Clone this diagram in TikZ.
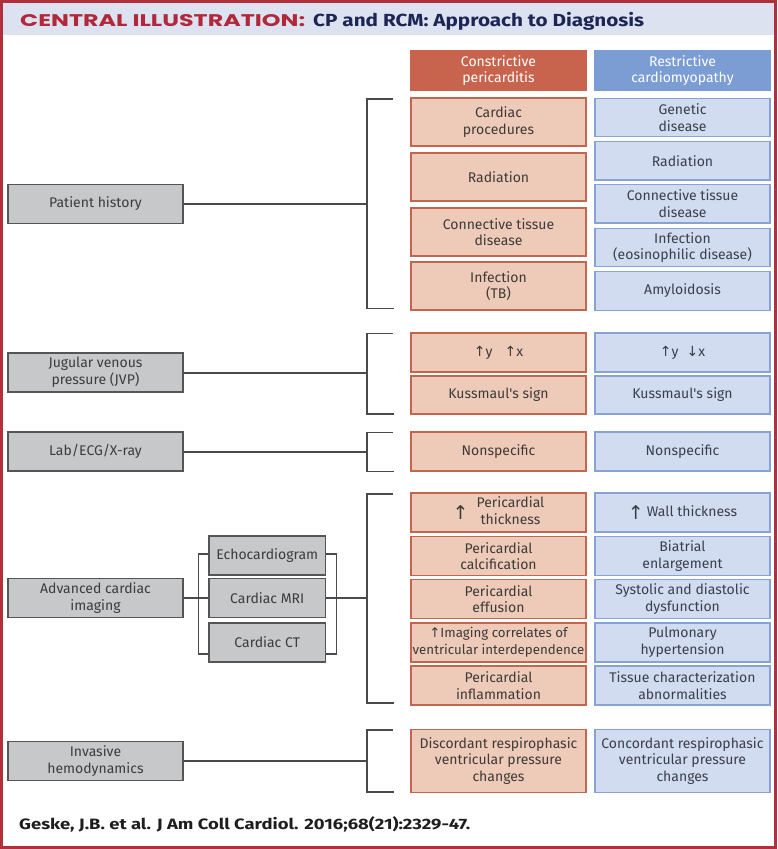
\documentclass[tikz,border=0pt]{standalone}
\usepackage{fontspec}
\usepackage{graphicx}
\setmainfont{Fira Sans}
\newfontfamily\arrowfont{DejaVu Sans}
\newfontfamily\titlefontA{Poppins}
\newfontfamily\titlefontB{Fira Sans}
\definecolor{framered}{HTML}{B1303C}
\definecolor{titleband}{HTML}{DCE2F0}
\definecolor{titlered}{HTML}{B0283A}
\definecolor{titlenavy}{HTML}{1C2654}
\definecolor{cphead}{HTML}{C8644E}
\definecolor{rcmhead}{HTML}{7B9DD3}
\definecolor{cpfill}{HTML}{EECBB9}
\definecolor{cpline}{HTML}{C2664F}
\definecolor{rcmfill}{HTML}{D1DCF1}
\definecolor{rcmline}{HTML}{87A3D4}
\definecolor{cptext}{HTML}{3E3A38}
\definecolor{rcmtext}{HTML}{3A3F4C}
\definecolor{grayfill}{HTML}{C7C8CA}
\definecolor{grayline}{HTML}{555555}
\definecolor{graytext}{HTML}{3C3C3C}
\definecolor{connc}{HTML}{4A4A4A}
\definecolor{foot}{HTML}{1E1E1E}
\newcommand{\up}{{\arrowfont ↑}}
\newcommand{\down}{{\arrowfont ↓}}
\newcommand{\bigup}{$\vcenter{\hbox{\arrowfont\fontsize{19}{19}\selectfont ↑}}$}
\begin{document}
\begin{tikzpicture}[x=1pt,y=-1pt,
  cell/.style={rectangle, line width=1.1pt, minimum width=175pt, inner sep=0pt, align=center, font=\fontsize{14}{16.7}\selectfont},
  cp/.style={cell, fill=cpfill, draw=cpline, text=cptext},
  rcm/.style={cell, fill=rcmfill, draw=rcmline, text=rcmtext},
  cphd/.style={cell, fill=cphead, draw=cphead, text=white},
  rcmhd/.style={cell, fill=rcmhead, draw=rcmhead, text=white},
  grayb/.style={rectangle, draw=grayline, fill=grayfill, line width=1.3pt, minimum height=39pt, inner sep=0pt, align=center, text=graytext, font=\fontsize{14}{16.7}\selectfont},
  mainb/.style={grayb, minimum width=175pt},
  subb/.style={grayb, minimum width=116.5pt},
  conn/.style={draw=connc, line width=1.3pt}]
\useasboundingbox (0,0) rectangle (778,849);
% frame and title
\fill[white] (0,0) rectangle (778,849);
\fill[titleband] (3,3) rectangle (774,35);
\draw[framered, line width=3pt] (1.5,1.5) rectangle (775.5,847.5);
\node[anchor=base west, inner sep=0pt] (t1) at (20,26) {\resizebox{285pt}{12pt}{\titlefontA\bfseries\color{titlered}CENTRAL ILLUSTRATION:}};
\node[anchor=base west, inner sep=0pt] (t2) at (313,26) {\resizebox{331pt}{\height}{\titlefontB\fontsize{17.5}{20}\selectfont\bfseries\color{titlenavy}CP and RCM: Approach to Diagnosis}};
% headers
\node[cphd, minimum height=39pt] (hcp) at (498.5,70.5) {Constrictive\\pericarditis};
\node[rcmhd, minimum height=39pt] (hrcm) at (682.5,70.5) {Restrictive\\cardiomyopathy};
% patient history
\node[cp, minimum height=48pt] (c1) at (498.5,122) {Cardiac\\procedures};
\node[cp, minimum height=48pt] (c2) at (498.5,177) {Radiation};
\node[cp, minimum height=48pt] (c3) at (498.5,232) {Connective tissue\\disease};
\node[cp, minimum height=48pt] (c4) at (498.5,286) {Infection\\(TB)};
\node[rcm, minimum height=38.5pt] (r1) at (682.5,117.5) {Genetic\\disease};
\node[rcm, minimum height=38.5pt] (r2) at (682.5,160.75) {Radiation};
\node[rcm, minimum height=38.5pt] (r3) at (682.5,203.75) {Connective tissue\\disease};
\node[rcm, minimum height=38.5pt] (r4) at (682.5,247.5) {Infection\\(eosinophilic disease)};
\node[rcm, minimum height=38.5pt] (r5) at (682.5,291) {Amyloidosis};
% JVP
\node[cp, minimum height=39pt] (c5) at (498.5,352.5) {\up y\hspace{12pt}\up x};
\node[cp, minimum height=38pt] (c6) at (498.5,395) {Kussmaul\textquotesingle s sign};
\node[rcm, minimum height=39pt] (r6) at (682.5,352.5) {\up y\hspace{8pt}\down x};
\node[rcm, minimum height=38pt] (r7) at (682.5,395) {Kussmaul\textquotesingle s sign};
% Lab
\node[cp, minimum height=39pt] (c7) at (498.5,451.5) {Nonspecific};
\node[rcm, minimum height=39pt] (r8) at (682.5,451.5) {Nonspecific};
% imaging
\node[cp, minimum height=39pt] (c8) at (498.5,512.5) {\bigup\hspace{8pt}\begin{tabular}[c]{@{}c@{}}Pericardial\\thickness\end{tabular}};
\node[cp, minimum height=39pt] (c9) at (498.5,556) {Pericardial\\calcification};
\node[cp, minimum height=39pt] (c10) at (498.5,599) {Pericardial\\effusion};
\node[cp, minimum height=39pt, font=\fontsize{13.3}{16.7}\selectfont] (c11) at (498.5,642.5) {\up Imaging correlates of\\ventricular interdependence};
\node[cp, minimum height=39pt] (c12) at (498.5,685.5) {Pericardial\\inflammation};
\node[rcm, minimum height=39pt] (r9) at (682.5,512.5) {\bigup\hspace{3pt}Wall thickness};
\node[rcm, minimum height=39pt] (r10) at (682.5,556) {Biatrial\\enlargement};
\node[rcm, minimum height=39pt] (r11) at (682.5,599) {Systolic and diastolic\\dysfunction};
\node[rcm, minimum height=39pt] (r12) at (682.5,642.5) {Pulmonary\\hypertension};
\node[rcm, minimum height=39pt] (r13) at (682.5,685.5) {Tissue characterization\\abnormalities};
% invasive
\node[cp, minimum height=63pt] (c13) at (498.5,761) {Discordant respirophasic\\ventricular pressure\\changes};
\node[rcm, minimum height=63pt] (r14) at (682.5,761) {Concordant respirophasic\\ventricular pressure\\changes};
% left boxes
\node[mainb] (ph) at (95.5,204) {Patient history};
\node[mainb] (jvp) at (95.5,372.5) {Jugular venous\\pressure (JVP)};
\node[mainb] (lab) at (95.5,451.5) {Lab/ECG/X-ray};
\node[mainb] (adv) at (95.5,598) {Advanced cardiac\\imaging};
\node[mainb] (inv) at (95.5,761) {Invasive\\hemodynamics};
\node[subb] (echo) at (267.25,555.5) {Echocardiogram};
\node[subb] (mri) at (267.25,598) {Cardiac MRI};
\node[subb] (ct) at (267.25,642.5) {Cardiac CT};
% connectors: patient history
\coordinate (phJ) at (367,204);
\coordinate (phT) at (392.5,99);
\coordinate (phB) at (393.5,308.5);
\draw[conn] (ph.east) -- (phJ);
\draw[conn] (phT) -- (phT -| phJ) -- (phB -| phJ) -- (phB);
% JVP
\coordinate (jvJ) at (367,373);
\coordinate (jvT) at (392.5,333.5);
\coordinate (jvB) at (393.5,414);
\draw[conn] (jvp.east |- jvJ) -- (jvJ);
\draw[conn] (jvT) -- (jvT -| jvJ) -- (jvB -| jvJ) -- (jvB);
% Lab
\coordinate (lbJ) at (367,452);
\coordinate (lbT) at (392.5,432.5);
\coordinate (lbB) at (393.5,471.5);
\draw[conn] (lab.east |- lbJ) -- (lbJ);
\draw[conn] (lbT) -- (lbT -| lbJ) -- (lbB -| lbJ) -- (lbB);
% Advanced imaging
\coordinate (sbL1) at (198.5,554);
\coordinate (sbL2) at (198.5,654);
\coordinate (sbR1) at (336.5,554);
\coordinate (sbR2) at (336.5,654);
\draw[conn] (adv.east) -- (mri.west);
\draw[conn] (echo.west |- sbL1) -- (sbL1) -- (sbL2) -- (ct.west |- sbL2);
\draw[conn] (echo.east |- sbR1) -- (sbR1) -- (sbR2) -- (ct.east |- sbR2);
\coordinate (imJ) at (367,598);
\coordinate (imT) at (392.5,494);
\coordinate (imB) at (393.5,703);
\draw[conn] (mri.east) -- (imJ);
\draw[conn] (imT) -- (imT -| imJ) -- (imB -| imJ) -- (imB);
% Invasive
\coordinate (ivJ) at (367,761);
\coordinate (ivT) at (392.5,730);
\coordinate (ivB) at (393.5,792);
\draw[conn] (inv.east) -- (ivJ);
\draw[conn] (ivT) -- (ivT -| ivJ) -- (ivB -| ivJ) -- (ivB);
% footer
\node[anchor=base west, inner sep=0pt] (ft) at (19,829) {\resizebox{451pt}{\height}{\fontsize{15}{18}\selectfont\bfseries\color{foot}Geske, J.B. et al. J Am Coll Cardiol. 2016;68(21):2329-47.}};
\end{tikzpicture}
\end{document}
